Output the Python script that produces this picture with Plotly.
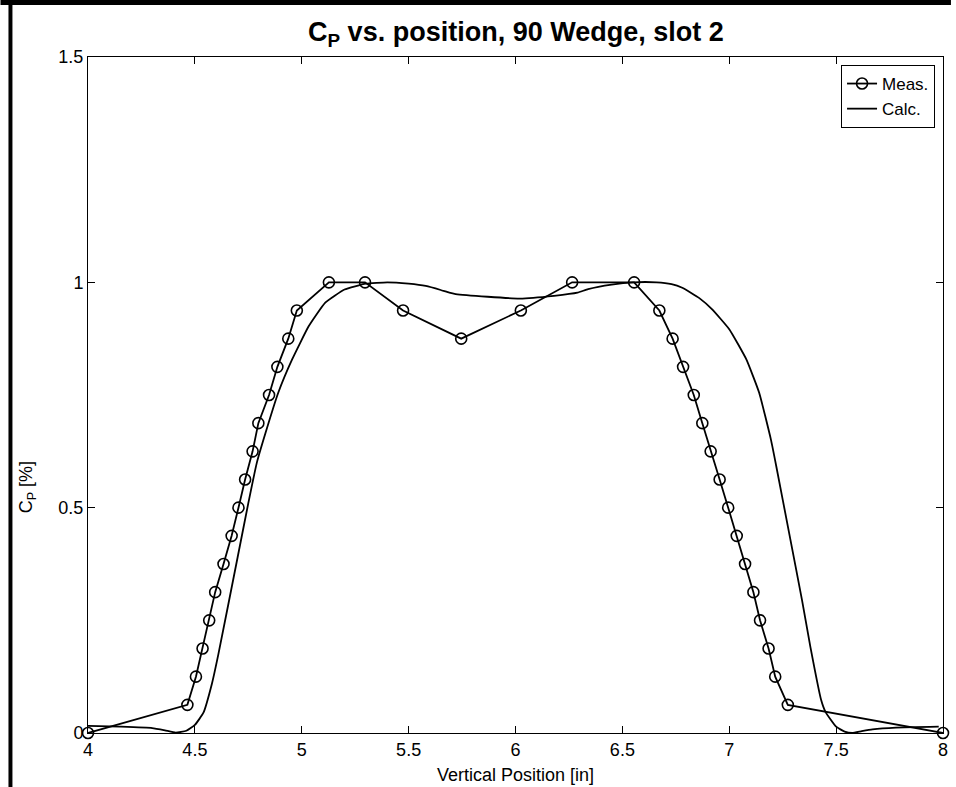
import plotly.graph_objects as go

# Measured pressure coefficient along the slot (open circles)
meas_x = [4.0, 4.465, 4.505, 4.536, 4.567, 4.595, 4.634, 4.672, 4.704, 4.735,
          4.77, 4.797, 4.847, 4.886, 4.937, 4.977, 5.127, 5.296, 5.474, 5.746,
          6.025, 6.265, 6.555, 6.673, 6.735, 6.784, 6.834, 6.874, 6.913, 6.955,
          6.995, 7.035, 7.074, 7.113, 7.144, 7.184, 7.215, 7.274, 8.0]
meas_y = [0.0, 0.0625, 0.125, 0.1875, 0.25, 0.3125, 0.375, 0.4375, 0.5, 0.5625,
          0.625, 0.6875, 0.75, 0.8125, 0.875, 0.9375, 1.0, 1.0, 0.9375, 0.875,
          0.9375, 1.0, 1.0, 0.9375, 0.875, 0.8125, 0.75, 0.6875, 0.625, 0.5625,
          0.5, 0.4375, 0.375, 0.3125, 0.25, 0.1875, 0.125, 0.0625, 0.0]

# Calculated profile (solid line)
calc_x = [4.00, 4.15, 4.30, 4.36, 4.41, 4.46, 4.50, 4.54, 4.58, 4.61,
          4.70, 4.75, 4.79, 4.83, 4.89, 4.955, 5.033, 5.11, 5.20, 5.30,
          5.40, 5.50, 5.58, 5.65, 5.69, 5.72, 5.87, 6.02, 6.18, 6.29,
          6.34, 6.45, 6.55, 6.66, 6.73, 6.78, 6.86, 6.92, 7.00, 7.08,
          7.14, 7.195, 7.22, 7.28, 7.34, 7.38, 7.43, 7.45, 7.50, 7.54,
          7.575, 7.62, 7.67, 7.78, 7.98]
calc_y = [0.016, 0.014, 0.011, 0.006, 0.001, 0.005, 0.018, 0.045, 0.11, 0.175,
          0.39, 0.51, 0.6, 0.665, 0.755, 0.829, 0.903, 0.955, 0.984, 0.997,
          1.0, 0.997, 0.992, 0.983, 0.977, 0.974, 0.968, 0.964, 0.970, 0.977,
          0.985, 0.995, 1.0, 1.0, 0.996, 0.988, 0.965, 0.94, 0.896, 0.829,
          0.755, 0.651, 0.592, 0.444, 0.296, 0.19, 0.073, 0.047, 0.014, 0.003,
          0.0, 0.004, 0.008, 0.012, 0.014]

x_ticks = [4, 4.5, 5, 5.5, 6, 6.5, 7, 7.5, 8]
x_tick_text = ["4", "4.5", "5", "5.5", "6", "6.5", "7", "7.5", "8"]
y_ticks = [0, 0.5, 1, 1.5]
y_tick_text = ["0", "0.5", "1", "1.5"]

FONT = "Liberation Sans, Arial, Helvetica, sans-serif"
W, H = 956, 787
L, R, T, B = 88, 8, 57, 54
PW, PH = W - L - R, H - T - B


def px_x(p):
    return (p - L) / PW


def px_y(p):
    return (H - B - p) / PH


fig = go.Figure()
fig.add_trace(go.Scatter(
    x=meas_x, y=meas_y, mode="lines+markers", name="Meas.",
    line=dict(color="black", width=1.8),
    marker=dict(symbol="circle-open", size=11, color="black",
                line=dict(width=1.6, color="black")),
    cliponaxis=False,
))
fig.add_trace(go.Scatter(
    x=calc_x, y=calc_y, mode="lines", name="Calc.",
    line=dict(color="black", width=1.8, shape="spline", smoothing=0.4),
))

axis_common = dict(
    showline=True, linecolor="black", linewidth=1, mirror="ticks",
    ticks="inside", ticklen=7, tickcolor="black", tickwidth=1,
    showgrid=False, zeroline=False,
    tickfont=dict(family=FONT, size=18, color="black"),
)

fig.update_layout(
    width=W, height=H,
    margin=dict(l=L, r=R, t=T, b=B),
    paper_bgcolor="white", plot_bgcolor="white",
    font=dict(family=FONT, color="black"),
    xaxis=dict(range=[4, 8], tickvals=x_ticks, ticktext=x_tick_text, **axis_common),
    yaxis=dict(range=[0, 1.5], tickvals=y_ticks, ticktext=y_tick_text, **axis_common),
    showlegend=True,
    legend=dict(
        x=px_x(940), y=px_y(65), xanchor="right", yanchor="top",
        bgcolor="white", bordercolor="black", borderwidth=1,
        font=dict(family=FONT, size=17, color="black"),
        itemwidth=30, tracegroupgap=0,
    ),
    annotations=[
        dict(text="<b>C<sub>P</sub> vs. position, 90 Wedge, slot 2</b>",
             xref="paper", yref="paper", x=0.5, y=px_y(34),
             xanchor="center", yanchor="middle", showarrow=False,
             font=dict(family=FONT, size=27, color="black")),
        dict(text="Vertical Position [in]",
             xref="paper", yref="paper", x=0.5, y=px_y(775),
             xanchor="center", yanchor="middle", showarrow=False,
             font=dict(family=FONT, size=18, color="black")),
        dict(text="C<sub>P</sub> [%]", textangle=-90,
             xref="paper", yref="paper", x=px_x(27), y=px_y(487),
             xanchor="center", yanchor="middle", showarrow=False,
             font=dict(family=FONT, size=18, color="black")),
    ],
    shapes=[
        # figure frame: heavy rule along the top and the left edge
        dict(type="rect", xref="paper", yref="paper",
             x0=px_x(0), x1=px_x(W), y0=px_y(5), y1=px_y(0),
             fillcolor="black", line=dict(width=0), layer="above"),
        dict(type="rect", xref="paper", yref="paper",
             x0=px_x(8), x1=px_x(12), y0=px_y(H), y1=px_y(0),
             fillcolor="black", line=dict(width=0), layer="above"),
    ],
)

fig.write_html("out.html")
